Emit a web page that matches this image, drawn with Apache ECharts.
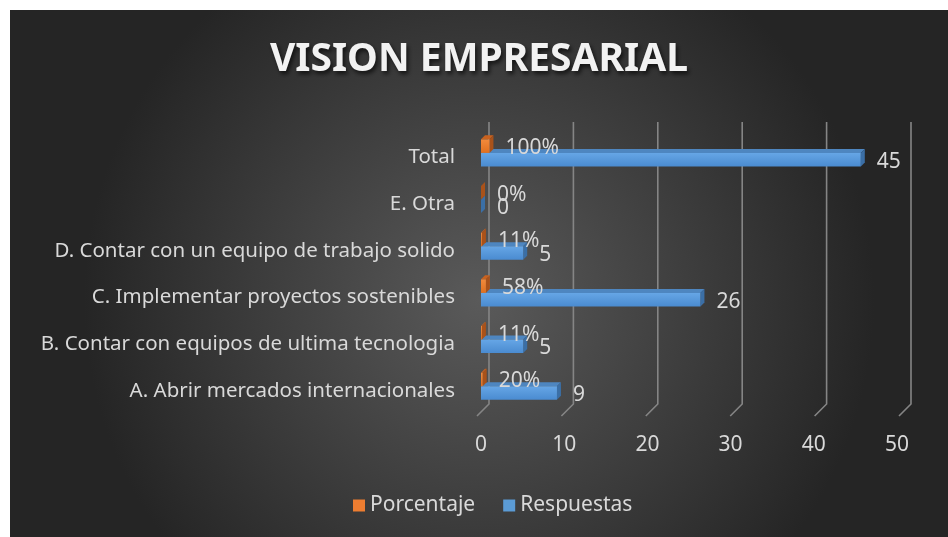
<!DOCTYPE html>
<html>
<head>
<meta charset="utf-8">
<script src="https://cdn.jsdelivr.net/npm/echarts@6/dist/echarts.min.js"></script>
<style>
  html, body { margin: 0; padding: 0; background: #ffffff; }
  #ec { position: absolute; left: 10px; top: 10px; width: 938px; height: 527px; }
</style>
</head>
<body>
<div id="ec"></div>
<script>
// data
const categories = [
  "A. Abrir mercados internacionales",
  "B. Contar con equipos de ultima tecnologia",
  "C. Implementar proyectos sostenibles",
  "D. Contar con un equipo de trabajo solido",
  "E. Otra",
  "Total",
];
const porcentaje = [0.2, 0.11, 0.58, 0.11, 0, 1];
const respuestas = [9, 5, 26, 5, 0, 45];
const ticks = [0, 10, 20, 30, 40, 50];

const labelColor = "#d9d9d9";
const font = "Noto Sans";

// draws one 3D-looking bar; side = 0 for upper bar, 1 for lower bar
function makeBar(colors, side, fmt) {
  return function (params, api) {
    const v = api.value(0);
    const cat = api.value(1);
    const s = api.coord([0, cat]);
    const e = api.coord([v, cat]);
    const band = api.size([0, 1])[1];
    const h = band * 0.29;
    const d = 4;
    const x0 = s[0];
    const x1 = e[0];
    const y0 = s[1] - band * 0.385 + side * h;
    return {
      type: "group",
      children: [
        {
          type: "polygon",
          shape: { points: [[x0, y0], [x0 + d, y0 - d], [x1 + d, y0 - d], [x1, y0]] },
          style: { fill: colors.top },
        },
        {
          type: "polygon",
          shape: { points: [[x1, y0], [x1 + d, y0 - d], [x1 + d, y0 + h - d], [x1, y0 + h]] },
          style: { fill: colors.side },
        },
        {
          type: "rect",
          shape: { x: x0, y: y0, width: x1 - x0, height: h },
          style: {
            fill: new echarts.graphic.LinearGradient(0, 0, 0, 1, [
              { offset: 0, color: colors.light },
              { offset: 1, color: colors.dark },
            ]),
          },
        },
        {
          type: "text",
          style: {
            text: fmt(v),
            x: x1 + 16,
            y: y0 + h / 2 + 2,
            fill: labelColor,
            font: "21px '" + font + "'",
            verticalAlign: "middle",
          },
        },
      ],
    };
  };
}

const blue = { light: "#66a6e6", dark: "#4a8bd0", top: "#4e86c0", side: "#3b6fa6" };
const orange = { light: "#f28a3c", dark: "#e0701f", top: "#c9621f", side: "#a9521a" };

var myChart = echarts.init(document.getElementById("ec"));
myChart.setOption({
  backgroundColor: new echarts.graphic.RadialGradient(0.5, 0.55, 0.75, [
    { offset: 0, color: "#5a5a5a" },
    { offset: 1, color: "#252525" },
  ]),
  animation: false,
  title: {
    text: "VISION EMPRESARIAL",
    left: "center",
    top: 25,
    textStyle: {
      color: "#f2f2f2",
      fontFamily: font,
      fontWeight: "bold",
      fontSize: 39,
      textShadowColor: "rgba(0,0,0,0.65)",
      textShadowBlur: 4,
      textShadowOffsetX: 2,
      textShadowOffsetY: 3,
    },
  },
  legend: {
    left: 338,
    top: 480,
    itemWidth: 12,
    itemHeight: 12,
    itemGap: 28,
    textStyle: { color: labelColor, fontFamily: font, fontSize: 21 },
    data: [
      { name: "Porcentaje", icon: "rect", itemStyle: { color: "#ed7d31" } },
      { name: "Respuestas", icon: "rect", itemStyle: { color: "#5b9bd5" } },
    ],
  },
  grid: [
    { left: 471, right: 45, top: 124, bottom: 123 },
    { left: 471, right: 51, top: 124, bottom: 123 },
  ],
  xAxis: [
    { type: "value", min: 0, max: 50, interval: 10, show: false, gridIndex: 0 },
    {
      type: "value",
      min: 0,
      max: 50,
      interval: 10,
      gridIndex: 1,
      axisLine: { show: false },
      axisTick: { show: false },
      splitLine: { show: false },
      axisLabel: { color: labelColor, fontFamily: font, fontSize: 21, margin: 21 },
    },
  ],
  yAxis: [
    {
      type: "category",
      data: categories,
      gridIndex: 0,
      axisLine: { show: false },
      axisTick: { show: false },
      axisLabel: { color: labelColor, fontFamily: font, fontSize: 20.5, margin: 26 },
    },
    { type: "category", data: categories, gridIndex: 1, show: false },
  ],
  series: [
    {
      name: "grid",
      type: "custom",
      silent: true,
      z: 1,
      data: ticks.map((t) => [t, 0]),
      renderItem: function (params, api) {
        const x = api.coord([api.value(0), 0])[0];
        const cs = params.coordSys;
        const bottom = cs.y + cs.height;
        return {
          type: "polyline",
          shape: {
            points: [
              [x + 8, cs.y - 12],
              [x + 8, bottom - 10],
              [x - 4, bottom + 2],
            ],
          },
          style: { stroke: "#858585", lineWidth: 1.6, fill: null },
        };
      },
    },
    {
      name: "Respuestas",
      type: "custom",
      z: 2,
      data: respuestas.map((v, i) => [v, i]),
      renderItem: makeBar(blue, 1, (v) => String(v)),
    },
    {
      name: "Porcentaje",
      type: "custom",
      z: 3,
      data: porcentaje.map((v, i) => [v, i]),
      renderItem: makeBar(orange, 0, (v) => Math.round(v * 100) + "%"),
    },
  ],
});
</script>
</body>
</html>
